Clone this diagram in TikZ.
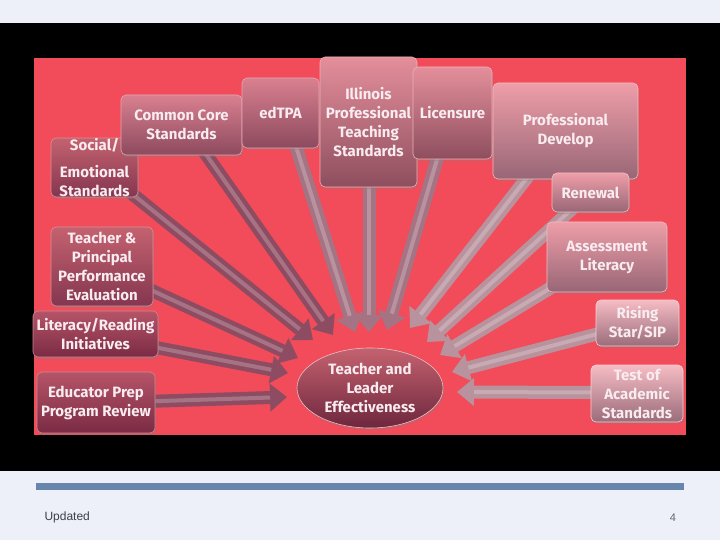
\documentclass[tikz,border=0pt]{standalone}
\usepackage{fontspec}
\setmainfont{Fira Sans}
\newfontfamily\footfont{Liberation Sans}
\usetikzlibrary{arrows.meta,calc,shapes.geometric,shadows}
\definecolor{pageBg}{RGB}{237,240,248}
\definecolor{panelRed}{RGB}{242,75,89}
\definecolor{barBlue}{RGB}{104,134,172}
\definecolor{labelInk}{RGB}{248,236,240}
\definecolor{footInk}{RGB}{60,64,72}
% box shades, dark (left) to light (right)
\definecolor{topA}{HTML}{B65468}\definecolor{botA}{HTML}{7A2B44}
\definecolor{topB}{HTML}{C4626F}\definecolor{botB}{HTML}{843650}
\definecolor{topC}{HTML}{D98090}\definecolor{botC}{HTML}{8D4A5E}
\definecolor{topD}{HTML}{E48F9B}\definecolor{botD}{HTML}{8E4E5E}
\definecolor{topE}{HTML}{EE9EA8}\definecolor{botE}{HTML}{986676}
\definecolor{topF}{HTML}{F6BCC4}\definecolor{botF}{HTML}{9A6C7A}
\definecolor{feedA}{HTML}{8E4C62}
\definecolor{feedB}{HTML}{A57484}
\definecolor{feedC}{HTML}{B8939D}
\pgfdeclarelayer{back}
\pgfdeclarelayer{feeds}
\pgfsetlayers{back,feeds,main}

\begin{document}
\begin{tikzpicture}[x=1pt,y=-1pt,
  goal/.style 2 args={draw=#1!70!white, line width=0.6pt, rounded corners=5pt,
    top color=#1, bottom color=#2, inner sep=0pt, align=center, text=labelInk,
    font=\bfseries\fontsize{15}{19}\selectfont,
    drop shadow={opacity=0.35,shadow xshift=1pt,shadow yshift=-2pt}},
  hub/.style={ellipse, draw=white!60!topB, line width=0.6pt, top color=topB,
    bottom color=botA!90!black, inner sep=0pt, align=center, text=labelInk,
    font=\bfseries\fontsize{15}{19}\selectfont,
    drop shadow={opacity=0.35,shadow xshift=1pt,shadow yshift=-2pt}},
  feed/.style={draw=#1, line width=13pt, -{Triangle[width=27pt,length=17pt]},
    postaction={draw=white, draw opacity=0.22, line width=4pt, -, shorten >=17pt}}]
  \useasboundingbox (0,0) rectangle (720,540);
  % slide background, black frame and red panel
  \begin{pgfonlayer}{back}
    \fill[pageBg] (0,0) rectangle (720,540);
    \fill[black] (0,23) rectangle (720,471);
    \fill[panelRed] (34,58) rectangle (686,435);
    \fill[barBlue] (36,483) rectangle (684,490);
  \end{pgfonlayer}
  % the boxes round the panel
  \node[goal={topB}{botB}, minimum width=87pt, minimum height=59pt] (social) at (94.5,167.5) {Social/\\[8pt]Emotional\\Standards};
  \node[goal={topC}{botC}, minimum width=121pt, minimum height=60pt] (core) at (181.5,125) {Common Core\\Standards};
  \node[goal={topC}{botC}, minimum width=77pt, minimum height=70pt] (edtpa) at (280.5,113) {edTPA};
  \node[goal={topD}{botD}, minimum width=97pt, minimum height=130pt] (ipts) at (368.5,122) {Illinois\\Professional\\Teaching\\Standards};
  \node[goal={topD}{botD}, minimum width=79pt, minimum height=92pt] (licen) at (452.5,113) {Licensure};
  \node[goal={topE}{botE}, minimum width=145pt, minimum height=96pt] (profdev) at (565.5,131) {Professional\\Develop};
  \node[goal={topE}{botE}, minimum width=77pt, minimum height=39pt] (renew) at (590.5,192.5) {Renewal};
  \node[goal={topE}{botE}, minimum width=120pt, minimum height=70pt] (assess) at (607,257) {Assessment\\Literacy};
  \node[goal={topF}{botF}, minimum width=83pt, minimum height=46pt] (rising) at (637.5,323) {Rising\\Star/SIP};
  \node[goal={topF}{botF}, minimum width=92pt, minimum height=57pt] (tests) at (637,393.5) {Test of\\Academic\\Standards};
  \node[goal={topB}{botB}, minimum width=102pt, minimum height=79pt] (evalu) at (102,266.5) {Teacher \&\\Principal\\Performance\\Evaluation};
  \node[goal={topA}{botA}, minimum width=125pt, minimum height=46pt] (literacy) at (95.5,334) {Literacy/Reading\\Initiatives};
  \node[goal={topA}{botA}, minimum width=118pt, minimum height=61pt] (prep) at (96,402.5) {Educator Prep\\Program Review};
  \node[hub, minimum width=146pt, minimum height=80pt] (hub) at (370,388) {Teacher and\\Leader\\Effectiveness};
  % arrow tips round the hub
  \coordinate (tSocial) at (313,340);
  \coordinate (tCore) at (333,335);
  \coordinate (tEdtpa) at (355,332);
  \coordinate (tIpts) at (369,332);
  \coordinate (tLicen) at (387,330);
  \coordinate (tProfdev) at (410,328);
  \coordinate (tRenew) at (427,342);
  \coordinate (tAssess) at (440,355);
  \coordinate (tRising) at (452,372);
  \coordinate (tTests) at (457,392);
  \coordinate (tEvalu) at (298,358);
  \coordinate (tLiteracy) at (288,373);
  \coordinate (tPrep) at (287,397);
  % block arrows, behind the boxes
  \begin{pgfonlayer}{feeds}
    \draw[feed=feedA] ([shift={(-13,-9)}]social.south east) -- (tSocial);
    \draw[feed=feedA] ([shift={(19.5,-8)}]core.south) -- (tCore);
    \draw[feed=feedB] ([shift={(13.5,-8)}]edtpa.south) -- (tEdtpa);
    \draw[feed=feedB] ([shift={(0.5,-8)}]ipts.south) -- (tIpts);
    \draw[feed=feedB] ([shift={(-12.5,-10)}]licen.south) -- (tLicen);
    \draw[feed=feedC] ([shift={(-33.5,-8)}]profdev.south) -- (tProfdev);
    \draw[feed=feedC] ([shift={(-14.5,-7)}]renew.south) -- (tRenew);
    \draw[feed=feedC] ([shift={(10,-8)}]assess.south west) -- (tAssess);
    \draw[feed=feedC] ([shift={(9,9)}]rising.west) -- (tRising);
    \draw[feed=feedC] ([shift={(10,-1)}]tests.west) -- (tTests);
    \draw[feed=feedA] ([shift={(-10,20)}]evalu.east) -- (tEvalu);
    \draw[feed=feedA] ([shift={(-10,12)}]literacy.east) -- (tLiteracy);
    \draw[feed=feedA] ([shift={(-10,-1)}]prep.east) -- (tPrep);
  \end{pgfonlayer}
  % footer
  \node[anchor=west, text=footInk, font=\footfont\fontsize{12}{14}\selectfont] (updated) at (41,517) {Updated};
  \node[text=footInk!80, font=\footfont\fontsize{11}{14}\selectfont] (pageno) at (673,518) {4};
\end{tikzpicture}
\end{document}
